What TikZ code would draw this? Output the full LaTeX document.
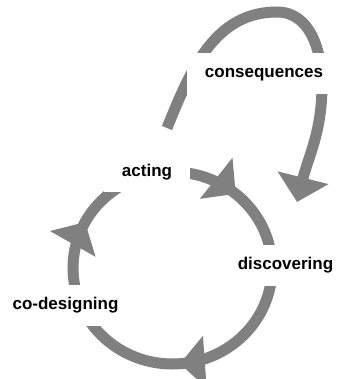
\documentclass[tikz,border=0pt]{standalone}
\usepackage{fontspec}
\setmainfont{Liberation Sans}
\usetikzlibrary{arrows.meta,decorations.markings,calc}
\pgfdeclarelayer{background}
\pgfsetlayers{background,main}
\definecolor{loopgray}{RGB}{128,128,128}
\begin{document}
\begin{tikzpicture}[x=1pt,y=1pt,
  lbl/.style={fill=white, font=\fontsize{17}{20}\selectfont\bfseries,
    text height=12.5pt, text depth=3.6pt, inner xsep=18pt, inner ysep=12pt},
  loopline/.style={draw=loopgray, line width=11pt},
  headtip/.style={Triangle[length=25pt,width=51pt]}]
\useasboundingbox (0,0) rectangle (338,-379);
\node[lbl] (acting) at (147,-172) {acting};
\node[lbl] (conseq) at (264,-73.5) {consequences};
\node[lbl] (disc) at (285.5,-265.5) {discovering};
\node[lbl] (codes) at (65.5,-305.5) {co-designing};
\coordinate (cyc) at (172.5,-268);
\coordinate (ls) at (167,-128);
\coordinate (lt) at (277,-12);
\coordinate (lr) at (322,-85);
\coordinate (le) at (297,-202);
\begin{pgfonlayer}{background}
\draw[loopline, postaction={decorate}, decoration={markings,
   mark=at position 0.111 with {\arrow[loopgray]{Triangle[length=25pt,width=51pt]}},
   mark=at position 0.488 with {\arrow[loopgray]{Triangle[length=25pt,width=51pt]}},
   mark=at position 0.828 with {\arrow[loopgray]{Triangle[length=25pt,width=51pt]}}}]
  ($(cyc)+(0,96)$) arc[start angle=90, end angle=-270, x radius=99.5, y radius=96];
\draw[loopline, -{Triangle[length=25pt,width=51pt]}, loopgray]
  (ls) to[out=68,in=180] (lt) to[out=0,in=90] (lr) to[out=-90,in=76] (le);
\end{pgfonlayer}
\end{tikzpicture}
\end{document}
